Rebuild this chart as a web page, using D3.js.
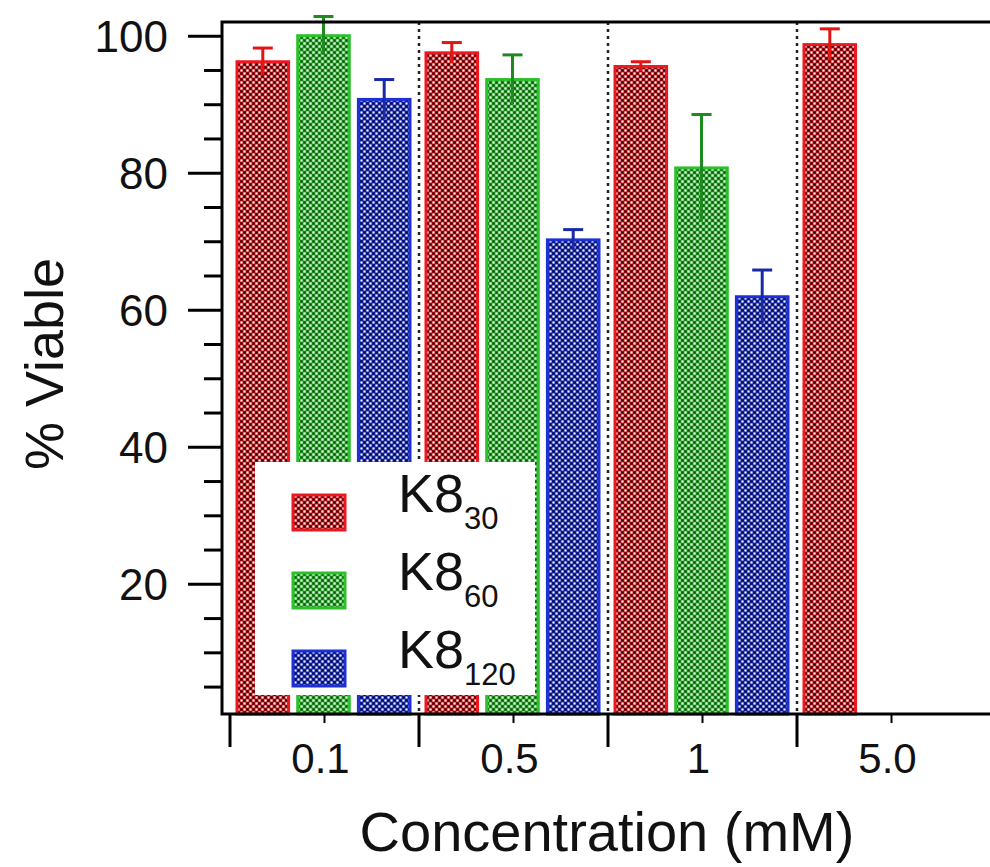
<!DOCTYPE html>
<html>
<head>
<meta charset="utf-8">
<script src="https://d3js.org/d3.v7.min.js"></script>
<style>
	body { margin: 0; background: #fff; }
	text { font-family: 'Liberation Sans', Arial, sans-serif; fill: #111; }
</style>
</head>
<body>
<div id="chart"></div>
<script>
// values (% viable, mean and error)
var concentrations = ['0.1', '0.5', '1', '5.0'];
var seriesKeys = ['k8_30', 'k8_60', 'k8_120'];
var seriesSubs = ['30', '60', '120'];
var k8_30 = [96.2, 97.5, 95.5, 98.7];
var k8_30Err = [2.0, 1.5, 0.7, 2.3];
var k8_60 = [100.0, 93.6, 80.7, null];
var k8_60Err = [2.8, 3.6, 7.8, null];
var k8_120 = [90.7, 70.2, 61.9, null];
var k8_120Err = [2.9, 1.5, 3.9, null];
var yMajorTicks = [20, 40, 60, 80, 100];
var yMinorTicks = [5, 10, 15, 25, 30, 35, 45, 50, 55, 65, 70, 75, 85, 90, 95];

var params = {
	width: 990,
	height: 867,
	plotLeft: 222,
	plotTop: 22,
	plotBottom: 714,
	plotRight: 990,
	bandLeft: 230,
	bandStep: 189,
	stroke: { k8_30: '#ec1820', k8_60: '#2cc02c', k8_120: '#1c30d6' },
	dark: { k8_30: '#300606', k8_60: '#145414', k8_120: '#0a1040' },
	errColor: { k8_30: '#e41414', k8_60: '#1f8a1f', k8_120: '#1a2aa6' }
};

function buildRows(){
	var vals = { k8_30: k8_30, k8_60: k8_60, k8_120: k8_120 };
	var errs = { k8_30: k8_30Err, k8_60: k8_60Err, k8_120: k8_120Err };
	var rows = [];
	concentrations.forEach(function(c, i){
		seriesKeys.forEach(function(k){
			if (vals[k][i] != null) rows.push({ conc: c, key: k, value: vals[k][i], err: errs[k][i] });
		});
	});
	return rows;
}

function createChart(){
	var svg = d3.select('#chart').append('svg')
		.attr('width', params.width)
		.attr('height', params.height);

	// dotted fill patterns, one per series
	var defs = svg.append('defs');
	seriesKeys.forEach(function(k){
		var p = defs.append('pattern')
			.attr('id', 'pat_' + k)
			.attr('patternUnits', 'userSpaceOnUse')
			.attr('width', 6).attr('height', 6);
		p.append('rect').attr('width', 6).attr('height', 6).attr('fill', params.stroke[k]);
		p.append('rect').attr('x', 0.25).attr('y', 0.25).attr('width', 2.5).attr('height', 2.5).attr('fill', params.dark[k]);
		p.append('rect').attr('x', 3.25).attr('y', 3.25).attr('width', 2.5).attr('height', 2.5).attr('fill', params.dark[k]);
		p.append('rect').attr('x', 3.5).attr('y', 0.5).attr('width', 2).attr('height', 2).attr('fill', '#fff');
		p.append('rect').attr('x', 0.5).attr('y', 3.5).attr('width', 2).attr('height', 2).attr('fill', '#fff');
	});

	var x = d3.scaleBand()
		.domain(concentrations)
		.range([params.bandLeft, params.bandLeft + params.bandStep * concentrations.length])
		.padding(0);
	var xInner = d3.scaleBand()
		.domain(seriesKeys)
		.range([7, 180])
		.paddingInner(0.15);
	var y = d3.scaleLinear()
		.domain([1, 102])
		.range([params.plotBottom, params.plotTop]);

	// dotted separators between groups
	svg.selectAll('.sep')
		.data(concentrations.slice(1)).enter()
		.append('line')
			.attr('x1', function(d){ return x(d); })
			.attr('x2', function(d){ return x(d); })
			.attr('y1', params.plotTop)
			.attr('y2', params.plotBottom)
			.attr('stroke', '#222')
			.attr('stroke-width', 2.5)
			.attr('stroke-dasharray', '3,4');

	var rows = buildRows();

	svg.selectAll('.bar')
		.data(rows).enter()
		.append('rect')
			.attr('class', 'bar')
			.attr('x', function(d){ return x(d.conc) + xInner(d.key); })
			.attr('y', function(d){ return y(d.value); })
			.attr('width', xInner.bandwidth())
			.attr('height', function(d){ return y.range()[0] - y(d.value); })
			.attr('fill', function(d){ return 'url(#pat_' + d.key + ')'; })
			.attr('stroke', function(d){ return params.stroke[d.key]; })
			.attr('stroke-width', 3);

	// error bars (cap on top only)
	var eb = svg.selectAll('.err')
		.data(rows).enter()
		.append('g')
			.attr('class', 'err')
			.attr('stroke', function(d){ return params.errColor[d.key]; })
			.attr('stroke-width', 3);
	eb.append('line')
		.attr('x1', function(d){ return x(d.conc) + xInner(d.key) + xInner.bandwidth() / 2; })
		.attr('x2', function(d){ return x(d.conc) + xInner(d.key) + xInner.bandwidth() / 2; })
		.attr('y1', function(d){ return y(d.value - d.err); })
		.attr('y2', function(d){ return y(d.value + d.err); });
	eb.append('line')
		.attr('x1', function(d){ return x(d.conc) + xInner(d.key) + xInner.bandwidth() / 2 - 10; })
		.attr('x2', function(d){ return x(d.conc) + xInner(d.key) + xInner.bandwidth() / 2 + 10; })
		.attr('y1', function(d){ return y(d.value + d.err); })
		.attr('y2', function(d){ return y(d.value + d.err); });

	// legend box over the bars
	var lg = svg.append('g').attr('transform', 'translate(255,462)');
	lg.append('rect').attr('width', 280).attr('height', 233).attr('fill', '#fff');
	var item = lg.selectAll('.item')
		.data(seriesKeys).enter()
		.append('g')
			.attr('class', 'item')
			.attr('transform', function(d, i){ return 'translate(0,' + (33 + i * 78) + ')'; });
	item.append('rect')
		.attr('x', 38).attr('y', 0)
		.attr('width', 52).attr('height', 35)
		.attr('fill', function(d){ return 'url(#pat_' + d + ')'; })
		.attr('stroke', function(d){ return params.stroke[d]; })
		.attr('stroke-width', 3);
	var lt = item.append('text')
		.attr('x', 143).attr('y', 17)
		.style('font-size', '54px');
	lt.append('tspan').text('K8');
	lt.append('tspan')
		.attr('dy', 17)
		.style('font-size', '31px')
		.text(function(d, i){ return seriesSubs[i]; });

	// y axis: major and minor ticks
	var yMajor = svg.append('g')
		.attr('transform', 'translate(' + params.plotLeft + ',0)')
		.call(d3.axisLeft(y).tickValues(yMajorTicks).tickSize(34).tickPadding(20));
	yMajor.selectAll('text').style('font-size', '44px').attr('dy', '0.36em');
	svg.append('g')
		.attr('transform', 'translate(' + params.plotLeft + ',0)')
		.call(d3.axisLeft(y).tickValues(yMinorTicks).tickSize(18).tickFormat(''));
	svg.selectAll('.tick line').attr('stroke', '#000').attr('stroke-width', 3);
	svg.selectAll('.domain').remove();

	// x axis: long ticks at group edges, short ticks at centres
	svg.selectAll('.xmajor')
		.data(concentrations).enter()
		.append('line')
			.attr('x1', function(d){ return x(d); })
			.attr('x2', function(d){ return x(d); })
			.attr('y1', params.plotBottom)
			.attr('y2', params.plotBottom + 33)
			.attr('stroke', '#000').attr('stroke-width', 3);
	svg.selectAll('.xminor')
		.data(concentrations).enter()
		.append('line')
			.attr('x1', function(d){ return x(d) + x.bandwidth() / 2; })
			.attr('x2', function(d){ return x(d) + x.bandwidth() / 2; })
			.attr('y1', params.plotBottom)
			.attr('y2', params.plotBottom + 9)
			.attr('stroke', '#000').attr('stroke-width', 2);
	svg.selectAll('.xlab')
		.data(concentrations).enter()
		.append('text')
			.attr('x', function(d){ return x(d) + x.bandwidth() / 2 - 4; })
			.attr('y', 773)
			.style('text-anchor', 'middle')
			.style('font-size', '42px')
			.text(function(d){ return d; });

	// frame: left, top, bottom
	svg.append('path')
		.attr('d', 'M' + params.plotRight + ',' + params.plotTop + 'H' + params.plotLeft + 'V' + params.plotBottom + 'H' + params.plotRight)
		.attr('fill', 'none')
		.attr('stroke', '#000')
		.attr('stroke-width', 3);

	// axis titles
	svg.append('text')
		.attr('transform', 'translate(63,364) rotate(-90)')
		.style('text-anchor', 'middle')
		.style('font-size', '54px')
		.text('% Viable');
	svg.append('text')
		.attr('x', 607).attr('y', 851)
		.style('text-anchor', 'middle')
		.style('font-size', '56px')
		.text('Concentration (mM)');
}

createChart();
</script>
</body>
</html>
